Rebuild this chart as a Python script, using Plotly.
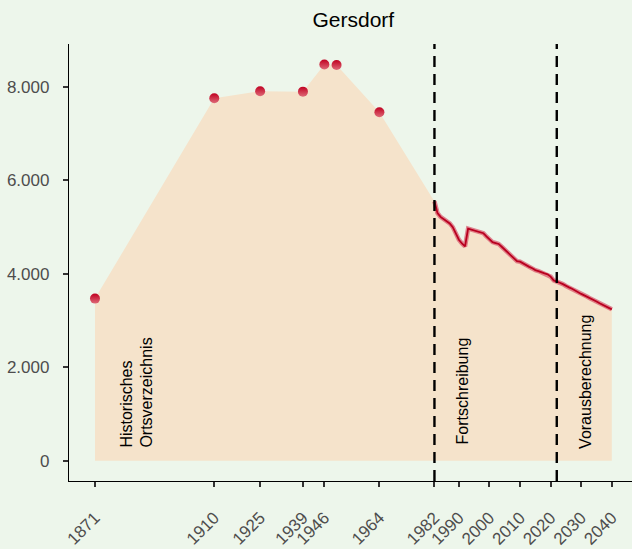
import plotly.graph_objects as go

# Historical census points (Historisches Ortsverzeichnis)
hist_years = [1871, 1910, 1925, 1939, 1946, 1950, 1964]
hist_pop = [3470, 7760, 7910, 7900, 8480, 8470, 7460]

# Annual series (Fortschreibung 1982-2022, Vorausberechnung 2022-2040)
line_years = [1982, 1983, 1984, 1985, 1986, 1987, 1988, 1989, 1990, 1991,
              1992, 1993, 1994, 1995, 1996, 1997, 1998, 1999, 2000, 2001,
              2002, 2003, 2004, 2005, 2006, 2007, 2008, 2009, 2010, 2011,
              2012, 2013, 2014, 2015, 2016, 2017, 2018, 2019, 2020, 2021,
              2022, 2023, 2024, 2025, 2026, 2027, 2028, 2029, 2030, 2031,
              2032, 2033, 2034, 2035, 2036, 2037, 2038, 2039, 2040]
line_pop = [5550, 5300, 5220, 5170, 5130, 5080, 5000, 4850, 4730, 4650,
            4590, 4970, 4950, 4920, 4900, 4890, 4870, 4800, 4740, 4680,
            4660, 4640, 4580, 4520, 4460, 4400, 4330, 4270, 4260, 4220,
            4180, 4150, 4120, 4080, 4060, 4030, 4010, 3990, 3940, 3860,
            3840, 3810, 3780, 3740, 3710, 3680, 3640, 3610, 3570, 3540,
            3510, 3470, 3440, 3410, 3370, 3340, 3310, 3270, 3240]

phase_breaks = [1982, 2022]
x_ticks = [1871, 1910, 1925, 1939, 1946, 1964, 1982, 1990, 2000, 2010, 2020, 2030, 2040]
y_ticks = [0, 2000, 4000, 6000, 8000]
y_tick_labels = ["0", "2.000", "4.000", "6.000", "8.000"]

phase_labels = ["Historisches<br>Ortsverzeichnis", "Fortschreibung", "Vorausberechnung"]
phase_label_x = [1884.6, 1991.3, 2031.2]
phase_label_y = [229, 315, 208]

BG = "#edf6eb"
AREA = "#f5e3cb"
DARK_RED = "#b8001f"

fig = go.Figure()

fig.add_trace(go.Scatter(
    x=hist_years + line_years, y=hist_pop + line_pop,
    mode="none", fill="tozeroy", fillcolor=AREA, hoverinfo="skip", showlegend=False))

fig.add_trace(go.Scatter(
    x=line_years, y=line_pop, mode="lines",
    line=dict(color="rgba(214,70,95,0.65)", width=4.5), showlegend=False))
fig.add_trace(go.Scatter(
    x=line_years, y=line_pop, mode="lines",
    line=dict(color=DARK_RED, width=1.8), showlegend=False))

fig.add_trace(go.Scatter(
    x=hist_years, y=hist_pop, mode="markers",
    marker=dict(size=10, color="#c00020",
                gradient=dict(type="vertical", color="#de6a78")),
    showlegend=False))

for xb in phase_breaks:
    fig.add_shape(type="line", x0=xb, x1=xb, xref="x", y0=0, y1=1, yref="paper",
                  line=dict(color="black", width=2.4, dash="11px,7px"))

for t, xa, ya in zip(phase_labels, phase_label_x, phase_label_y):
    fig.add_annotation(x=xa, y=ya, xref="x", yref="y", text=t, textangle=-90,
                       showarrow=False, xanchor="center", yanchor="bottom", align="left",
                       font=dict(family="Liberation Sans, Arial", size=16, color="black"))

fig.update_layout(
    width=632, height=549,
    margin=dict(l=69, r=0, t=44, b=68, autoexpand=False),
    paper_bgcolor=BG, plot_bgcolor=BG,
    title=dict(text="Gersdorf", x=0.505, xref="paper", xanchor="center",
               y=1 - 20 / 549, yref="container", yanchor="middle",
               font=dict(family="Liberation Sans, Arial", size=21, color="black")),
    font=dict(family="Liberation Sans, Arial"),
)

fig.update_xaxes(range=[1862.5, 2046.6], tickmode="array", tickvals=x_ticks,
                 ticktext=[str(v) for v in x_ticks], tickangle=-45, automargin=False,
                 ticklabelstandoff=14,
                 showgrid=False, zeroline=False, showline=True, linecolor="black", linewidth=1.3,
                 ticks="outside", ticklen=5, tickwidth=2, tickcolor="#333333",
                 tickfont=dict(size=17, color="#4d4d4d"))
fig.update_yaxes(range=[-434, 8920], tickmode="array", tickvals=y_ticks, ticktext=y_tick_labels,
                 automargin=False, ticklabelstandoff=10,
                 showgrid=False, zeroline=False, showline=True, linecolor="black", linewidth=1.3,
                 ticks="outside", ticklen=5, tickwidth=2, tickcolor="#333333",
                 tickfont=dict(size=17, color="#4d4d4d"))

fig.write_html(
    "out.html",
    config={"displayModeBar": False},
    post_script="document.body.style.margin='0';document.body.style.background='" + BG + "';",
)
